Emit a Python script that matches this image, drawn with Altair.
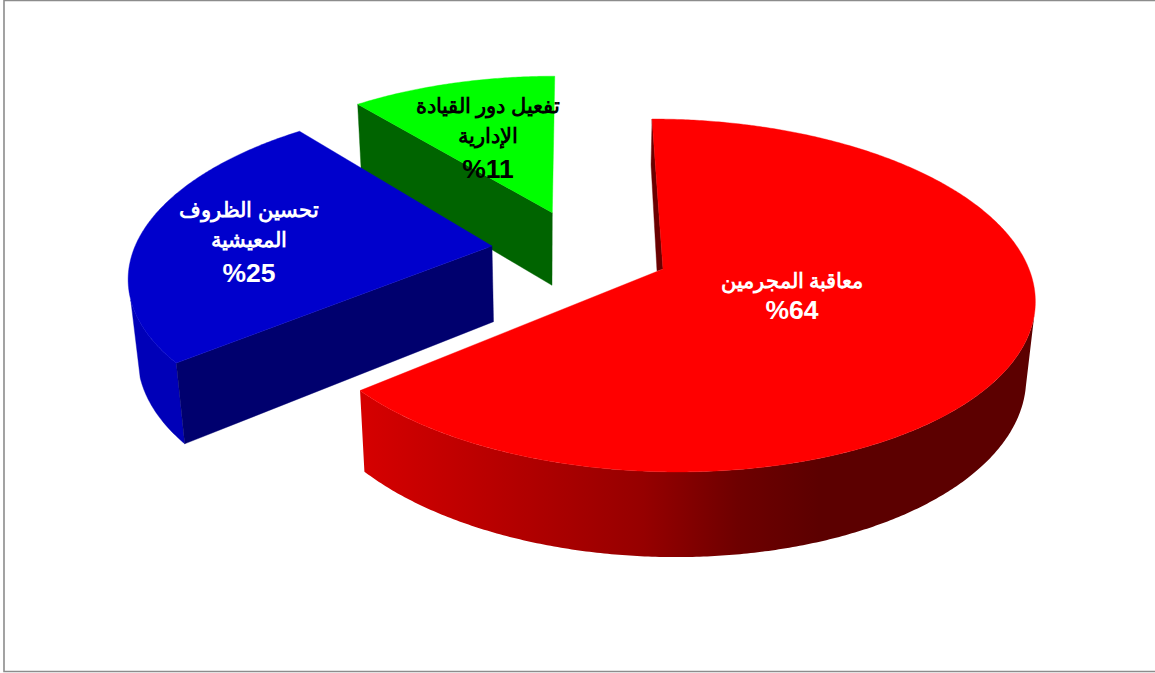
import math
import altair as alt

# Survey shares and their captions, in drawing order clockwise from the top
VALUES = [64, 25, 11]
CAPTIONS = [
    ["معاقبة المجرمين", "%64"],
    ["تحسين الظروف", "المعيشية", "%25"],
    ["تفعيل دور القيادة", "الإدارية", "%11"],
]
TEXT_COLORS = ["#ffffff", "#ffffff", "#000000"]
TEXT_X = [792, 249, 488]
TEXT_Y = [[282, 311], [211, 241, 274], [107, 137, 170]]
FONT_SIZE = 20.5
PCT_SIZE = 26.5

W, H = 1155, 673

# Perspective of the pie plane
RX, RY, PERSP = 366.0, 172.5, 0.15

# Per-slice placement: exploded apex, scale, shear, and how the bottom rim follows the top
SLICES = [
    dict(ax=663.0, ay=269.0, sx=1.00, sy=1.00, shear=-12.6, dx=-1.7, s=0.98, depth=75.0, e=0.05),
    dict(ax=492.0, ay=246.0, sx=0.975, sy=0.963, shear=17.0, dx=1.5, s=0.978, depth=75.7, e=0.043),
    dict(ax=552.3, ay=212.7, sx=0.94, sy=0.91, shear=3.0, dx=-0.3, s=0.98, depth=72.6, e=0.043),
]

# Angles where the outer walls turn out of sight
RED_WALL_FROM = 103
BLUE_WALL_TO = 252

RED_WALL = alt.Gradient(
    gradient="linear", x1=0, x2=1, y1=0, y2=0,
    stops=[
        alt.GradientStop(offset=0.0, color="#d60000"),
        alt.GradientStop(offset=0.42, color="#960000"),
        alt.GradientStop(offset=0.56, color="#6e0000"),
        alt.GradientStop(offset=0.68, color="#5c0000"),
        alt.GradientStop(offset=1.0, color="#5c0000"),
    ],
)


def top_point(cfg, deg):
    t = math.radians(deg)
    u, v = math.sin(t), math.cos(t)
    w = 1 + PERSP * v
    return (
        cfg["ax"] + cfg["sx"] * (RX * u + cfg["shear"] * v) / w,
        cfg["ay"] - cfg["sy"] * RY * v / w,
    )


def under(cfg, p):
    x, y = p
    return (
        cfg["ax"] + cfg["dx"] + cfg["s"] * (x - cfg["ax"]),
        y + cfg["depth"] + cfg["e"] * (y - cfg["ay"]),
    )


def arc(cfg, a0, a1):
    n = max(2, int(abs(a1 - a0) * 2))
    return [top_point(cfg, a0 + (a1 - a0) * i / n) for i in range(n + 1)]


def polygon(points, fill):
    rows = [{"x": x, "y": y, "i": i} for i, (x, y) in enumerate(points + points[:1])]
    stroke = fill if isinstance(fill, str) else "#8a0000"
    return (
        alt.Chart(alt.Data(values=rows))
        .mark_line(fill=fill, stroke=stroke, strokeWidth=0.4 if isinstance(fill, str) else 0)
        .encode(
            x=alt.X("x:Q", scale=alt.Scale(domain=[0, W]), axis=None),
            y=alt.Y("y:Q", scale=alt.Scale(domain=[H, 0]), axis=None),
            order="i:Q",
        )
    )


def wall(cfg, a0, a1, fill):
    rim = arc(cfg, a0, a1)
    return polygon(rim + [under(cfg, p) for p in reversed(rim)], fill)


def cut_face(cfg, deg, fill):
    apex = (cfg["ax"], cfg["ay"])
    edge = top_point(cfg, deg)
    return polygon([apex, edge, under(cfg, edge), under(cfg, apex)], fill)


def top_face(cfg, a0, a1, fill):
    return polygon([(cfg["ax"], cfg["ay"])] + arc(cfg, a0, a1), fill)


# Slice boundaries in degrees, taken from the shares
bounds = [0.0]
for value in VALUES:
    bounds.append(bounds[-1] + value * 360 / sum(VALUES))
red, blue, green = SLICES

layers = []

# Small back slice first, then the left slice, then the large front slice
layers.append(cut_face(green, bounds[2], "#006400"))
layers.append(top_face(green, bounds[2], bounds[3], "#00ff00"))

layers.append(wall(blue, bounds[1], BLUE_WALL_TO, "#0000b8"))
layers.append(cut_face(blue, bounds[1], "#00006e"))
layers.append(top_face(blue, bounds[1], bounds[2], "#0000cc"))

# Sliver of the inner cut beside the large slice's back edge
red_start = top_point(red, bounds[0])
red_apex = (red["ax"], red["ay"])
layers.append(polygon(
    [red_start, red_apex, (red_apex[0] - 6, red_apex[1] + 2), (red_start[0] - 1, red_start[1] + 46)],
    "#6a0000",
))
layers.append(wall(red, RED_WALL_FROM, bounds[1], RED_WALL))
layers.append(top_face(red, bounds[0], bounds[1], "#ff0000"))

# Slim outer frame
frame_rows = [
    {"x": 1155, "y": 0.5, "i": 0},
    {"x": 4, "y": 0.5, "i": 1},
    {"x": 4, "y": 671.5, "i": 2},
    {"x": 1155, "y": 671.5, "i": 3},
]
layers.append(
    alt.Chart(alt.Data(values=frame_rows))
    .mark_line(stroke="#8c8c8c", strokeWidth=1.6)
    .encode(
        x=alt.X("x:Q", scale=alt.Scale(domain=[0, W]), axis=None),
        y=alt.Y("y:Q", scale=alt.Scale(domain=[H, 0]), axis=None),
        order="i:Q",
    )
)

# Captions over the slices
for lines, color, tx, tys in zip(CAPTIONS, TEXT_COLORS, TEXT_X, TEXT_Y):
    rows = [
        {"x": tx, "y": ty, "t": line, "size": PCT_SIZE if line.startswith("%") else FONT_SIZE}
        for line, ty in zip(lines, tys)
    ]
    layers.append(
        alt.Chart(alt.Data(values=rows))
        .mark_text(font="Liberation Sans", fontWeight="bold", color=color, align="center", baseline="middle")
        .encode(
            x=alt.X("x:Q", scale=alt.Scale(domain=[0, W]), axis=None),
            y=alt.Y("y:Q", scale=alt.Scale(domain=[H, 0]), axis=None),
            text="t:N",
            size=alt.Size("size:Q", scale=None),
        )
    )

chart = (
    alt.layer(*layers)
    .properties(width=W, height=H, padding=0, autosize=alt.AutoSizeParams(type="none"), background="#ffffff")
    .configure_view(strokeWidth=0)
)

chart.save("out.html", embed_options={"renderer": "svg", "actions": False})
